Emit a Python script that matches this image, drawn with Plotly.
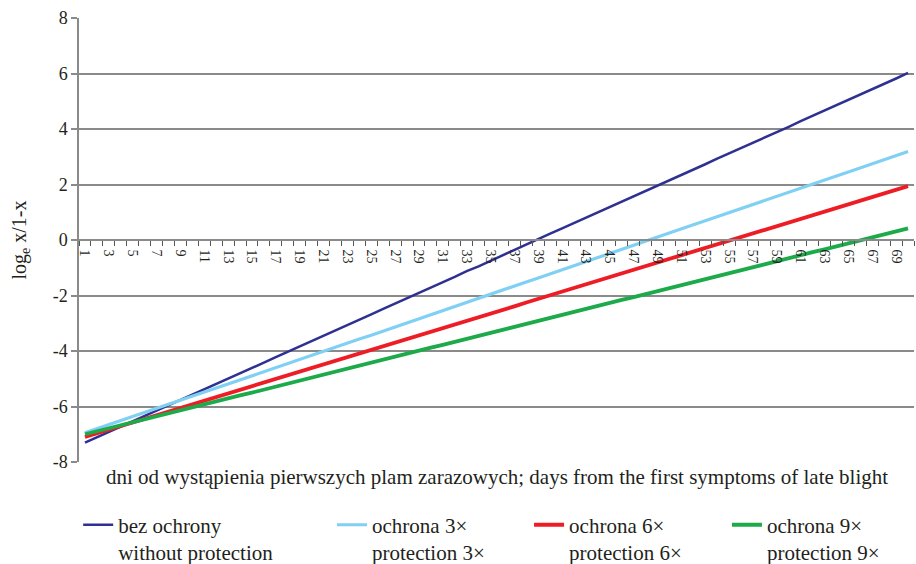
import plotly.graph_objects as go

# Days since the first late-blight symptoms
days = list(range(1, 71))
tick_days = list(range(1, 70, 2))
y_ticks = [-8, -6, -4, -2, 0, 2, 4, 6, 8]

# log_e x/(1-x) per treatment
bez_ochrony = [
    -7.30, -7.11, -6.91, -6.72, -6.53, -6.34, -6.14, -5.96, -5.77, -5.57,
    -5.38, -5.18, -4.99, -4.80, -4.61, -4.42, -4.22, -4.03, -3.85, -3.66,
    -3.45, -3.26, -3.06, -2.87, -2.68, -2.48, -2.29, -2.09, -1.90, -1.71,
    -1.52, -1.33, -1.12, -0.95, -0.75, -0.55, -0.36, -0.16, 0.03, 0.23,
    0.42, 0.61, 0.80, 1.00, 1.19, 1.38, 1.57, 1.77, 1.96, 2.15,
    2.35, 2.54, 2.73, 2.93, 3.12, 3.31, 3.50, 3.68, 3.88, 4.08,
    4.28, 4.47, 4.66, 4.86, 5.05, 5.24, 5.44, 5.63, 5.82, 6.02,
]
ochrona_3x = [
    -6.95, -6.80, -6.66, -6.51, -6.37, -6.22, -6.07, -5.92, -5.78, -5.63,
    -5.48, -5.33, -5.19, -5.04, -4.90, -4.75, -4.60, -4.45, -4.31, -4.16,
    -4.01, -3.86, -3.72, -3.57, -3.43, -3.28, -3.13, -2.98, -2.84, -2.69,
    -2.54, -2.39, -2.25, -2.10, -1.96, -1.81, -1.66, -1.51, -1.37, -1.22,
    -1.07, -0.92, -0.78, -0.63, -0.49, -0.34, -0.19, -0.04, 0.10, 0.25,
    0.40, 0.55, 0.69, 0.84, 0.98, 1.13, 1.28, 1.43, 1.57, 1.72,
    1.87, 2.02, 2.16, 2.31, 2.45, 2.60, 2.75, 2.90, 3.04, 3.19,
]
ochrona_6x = [
    -7.10, -6.97, -6.84, -6.71, -6.58, -6.45, -6.32, -6.18, -6.05, -5.92,
    -5.79, -5.66, -5.53, -5.40, -5.27, -5.14, -5.01, -4.87, -4.74, -4.61,
    -4.48, -4.35, -4.22, -4.09, -3.96, -3.83, -3.70, -3.56, -3.43, -3.30,
    -3.17, -3.04, -2.91, -2.78, -2.65, -2.52, -2.39, -2.25, -2.12, -1.99,
    -1.86, -1.73, -1.60, -1.47, -1.34, -1.21, -1.08, -0.94, -0.81, -0.68,
    -0.55, -0.42, -0.29, -0.16, -0.03, 0.10, 0.23, 0.37, 0.50, 0.63,
    0.76, 0.89, 1.02, 1.15, 1.28, 1.41, 1.54, 1.68, 1.81, 1.94,
]
ochrona_9x = [
    -7.00, -6.89, -6.79, -6.68, -6.57, -6.46, -6.36, -6.25, -6.14, -6.03,
    -5.93, -5.82, -5.71, -5.60, -5.50, -5.39, -5.28, -5.17, -5.07, -4.96,
    -4.85, -4.74, -4.64, -4.53, -4.42, -4.31, -4.21, -4.10, -3.99, -3.88,
    -3.78, -3.67, -3.56, -3.45, -3.35, -3.24, -3.13, -3.02, -2.92, -2.81,
    -2.70, -2.59, -2.49, -2.38, -2.27, -2.16, -2.06, -1.95, -1.84, -1.73,
    -1.63, -1.52, -1.41, -1.30, -1.20, -1.09, -0.98, -0.87, -0.77, -0.66,
    -0.55, -0.44, -0.34, -0.23, -0.12, -0.01, 0.09, 0.20, 0.31, 0.42,
]

series = [
    ("bez ochrony<br>without protection", bez_ochrony, "#2E3192", 2.5, "legend"),
    ("ochrona 3×<br>protection 3×", ochrona_3x, "#80D0F4", 3.2, "legend2"),
    ("ochrona 6×<br>protection 6×", ochrona_6x, "#EE1D25", 3.8, "legend3"),
    ("ochrona 9×<br>protection 9×", ochrona_9x, "#1CAA4A", 3.8, "legend4"),
]

TEXT = "#231F20"
GRID = "#8A8A8A"
SERIF = "Liberation Serif, Times New Roman, serif"

fig = go.Figure()
for name, vals, color, width, leg in series:
    fig.add_trace(go.Scatter(
        x=days, y=vals, name=name, mode="lines",
        line=dict(color=color, width=width),
        legend=leg,
    ))

legend_common = dict(
    orientation="v", yanchor="top", xanchor="left", y=-0.096,
    font=dict(family=SERIF, size=21, color=TEXT),
    bgcolor="rgba(0,0,0,0)", valign="top", tracegroupgap=0,
)

fig.update_layout(
    width=916, height=564,
    margin=dict(l=79, r=2, t=18, b=102, autoexpand=False),
    paper_bgcolor="white", plot_bgcolor="white",
    font=dict(family=SERIF, color=TEXT),
    showlegend=True,
    legend=dict(x=-0.001, **legend_common),
    legend2=dict(x=0.303, **legend_common),
    legend3=dict(x=0.539, **legend_common),
    legend4=dict(x=0.776, **legend_common),
    xaxis=dict(
        range=[0.5, 70.5],
        anchor="free", position=0.5,
        tickmode="array", tickvals=tick_days,
        ticktext=[str(d) for d in tick_days],
        tickangle=90, ticks="", ticklen=0, ticklabelstandoff=6,
        tickfont=dict(family=SERIF, size=14, color=TEXT),
        showgrid=False, zeroline=False,
        showline=True, linecolor=GRID, linewidth=1.5,
        minor=dict(tickmode="linear", tick0=0.5, dtick=1,
                   ticks="outside", ticklen=5, tickcolor="#555555",
                   tickwidth=1, showgrid=False),
    ),
    yaxis=dict(
        range=[-8, 8], tickmode="array", tickvals=y_ticks,
        ticktext=[str(v) for v in y_ticks],
        ticks="outside", ticklen=6, tickcolor=GRID, tickwidth=1.5,
        tickfont=dict(family=SERIF, size=18, color=TEXT),
        showgrid=True, gridcolor=GRID, gridwidth=1.5,
        zeroline=False,
        showline=True, linecolor=GRID, linewidth=1.5,
        title=dict(text="log<sub>e</sub> x/1-x", standoff=21,
                   font=dict(family=SERIF, size=20, color=TEXT)),
    ),
    annotations=[dict(
        text="dni od wystąpienia pierwszych plam zarazowych; days from the first symptoms of late blight",
        xref="paper", yref="paper", x=0.5, y=0.0, yshift=-15,
        xanchor="center", yanchor="middle", showarrow=False,
        font=dict(family=SERIF, size=21, color=TEXT),
    )],
)

fig.write_html("out.html")
